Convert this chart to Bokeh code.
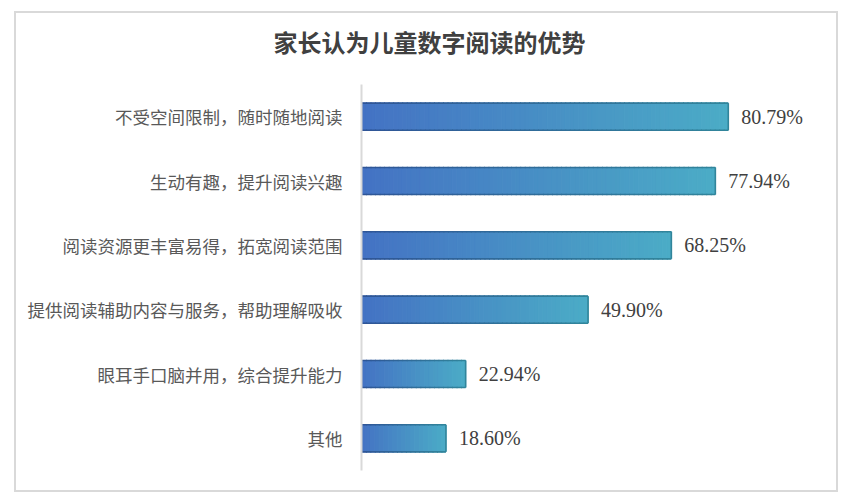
import numpy as np
from bokeh.plotting import figure
from bokeh.models import Range1d, FixedTicker, Spacer, Title
from bokeh.layouts import column, row
from bokeh.core.properties import value
from bokeh.embed import file_html
from bokeh.resources import INLINE

# ---- data ----
title_text = "家长认为儿童数字阅读的优势"
categories = [
    "不受空间限制，随时随地阅读",
    "生动有趣，提升阅读兴趣",
    "阅读资源更丰富易得，拓宽阅读范围",
    "提供阅读辅助内容与服务，帮助理解吸收",
    "眼耳手口脑并用，综合提升能力",
    "其他",
]
values = [80.79, 77.94, 68.25, 49.90, 22.94, 18.60]
value_labels = ["80.79%", "77.94%", "68.25%", "49.90%", "22.94%", "18.60%"]

# ---- style ----
c_fill0 = np.array([68, 114, 196])
c_fill1 = np.array([75, 172, 198])
c_line0 = np.array([47, 85, 151])
c_line1 = np.array([49, 133, 155])
BAR_H = 0.42


def hexc(c):
    c = np.clip(np.round(c), 0, 255).astype(int)
    return "#%02x%02x%02x" % tuple(c)


n = len(categories)
ys = [n - 1 - i for i in range(n)]

p = figure(width=824, height=481, output_backend="svg", toolbar_location=None,
           x_range=Range1d(0, 100), y_range=Range1d(-0.5, n - 0.5),
           min_border_left=345, min_border_right=25, min_border_top=71,
           min_border_bottom=24)
p.styles = {"border": "2px solid #d9d9d9"}
p.outline_line_color = None
p.background_fill_color = "white"
p.border_fill_color = "white"
p.grid.visible = False
p.xaxis.visible = False

# small blank title between the frame and the main title (pushes it up)
p.add_layout(Title(text=" ", text_font_size="8px"), "above")

p.title.text = title_text
p.title.align = "left"
p.title.offset = -88
p.title.text_font = "Noto Sans CJK SC"
p.title.text_font_size = "24px"
p.title.text_font_style = "bold"
p.title.text_color = "#404040"

yax = p.yaxis[0]
yax.ticker = FixedTicker(ticks=ys)
yax.major_label_overrides = {y: c for y, c in zip(ys, categories)}
yax.axis_line_color = "#d9d9d9"
yax.axis_line_width = 2
yax.major_tick_line_color = None
yax.minor_tick_line_color = None
yax.major_label_standoff = 13
yax.major_label_text_font = "Noto Sans CJK SC"
yax.major_label_text_font_size = "17.5px"
yax.major_label_text_color = "#595959"

# gradient slices (each bar: blue at its start, teal at its end)
L, R, T, B, F = [], [], [], [], []
sx0, sx1, sy, scol = [], [], [], []
for v, y in zip(values, ys):
    N = max(8, int(round(v)))
    step = v / N
    for i in range(N):
        t = (i + 0.5) / N
        col = hexc(c_fill0 + (c_fill1 - c_fill0) * t)
        L.append(i * step)
        R.append((i + 1) * step)
        T.append(y + BAR_H / 2)
        B.append(y - BAR_H / 2)
        F.append(col)
        lc = hexc(c_line0 + (c_line1 - c_line0) * t)
        for yy in (y + BAR_H / 2, y - BAR_H / 2):
            sx0.append(i * step)
            sx1.append(min(v, (i + 1.2) * step))
            sy.append(yy)
            scol.append(lc)

p.quad(left=L, right=R, top=T, bottom=B, fill_color=F, line_color=F, line_width=1)
p.segment(x0=sx0, y0=sy, x1=sx1, y1=sy, line_color=scol, line_width=1.6)
p.segment(x0=[0] * n, x1=[0] * n, y0=[y - BAR_H / 2 for y in ys],
          y1=[y + BAR_H / 2 for y in ys], line_color=hexc(c_line0), line_width=1.6)
p.segment(x0=values, x1=values, y0=[y - BAR_H / 2 for y in ys],
          y1=[y + BAR_H / 2 for y in ys], line_color=hexc(c_line1), line_width=1.6)

p.text(x=values, y=ys, text=value_labels, x_offset=13,
       text_baseline="middle", text_align="left",
       text_font=value("Liberation Serif"), text_font_size="20px",
       text_color="#404040")

layout = column(Spacer(width=10, height=11),
                row(Spacer(width=14, height=10), p))
open("out.html", "w").write(file_html(layout, INLINE))
